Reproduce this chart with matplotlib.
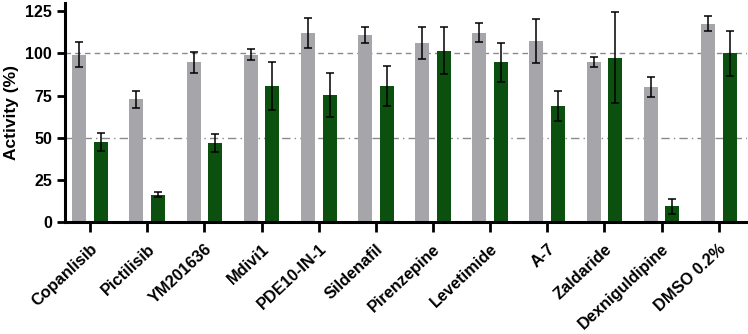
import numpy as np
import matplotlib.pyplot as plt
from matplotlib.transforms import ScaledTranslation

plt.rcParams['font.family'] = ['Liberation Sans', 'DejaVu Sans']

compounds = ['Copanlisib', 'Pictilisib', 'YM201636', 'Mdivi1', 'PDE10-IN-1', 'Sildenafil',
             'Pirenzepine', 'Levetimide', 'A-7', 'Zaldaride', 'Dexniguldipine', 'DMSO 0.2%']
grey_vals = [99.4, 72.9, 94.7, 99.4, 112.3, 111.1, 106.3, 112.3, 107.5, 94.9, 80.0, 117.8]
grey_err = [7.5, 5.0, 6.0, 3.5, 8.9, 4.7, 9.7, 5.6, 13.2, 3.2, 6.0, 4.2]
green_vals = [47.5, 16.2, 46.9, 80.6, 75.2, 80.6, 101.6, 94.9, 68.7, 97.4, 9.3, 100.0]
green_err = [5.5, 1.5, 5.2, 14.4, 13.0, 12.0, 13.9, 11.6, 8.8, 27.0, 4.4, 13.2]

x = np.arange(len(compounds))
w = 0.245
off = 0.19

fig = plt.figure(figsize=(7.48, 3.34), dpi=100)
ax = fig.add_axes([0.087, 0.336, 0.912, 0.655])

ax.axhline(100, color='#8a8a8a', lw=1, ls=(0, (4, 3)), zorder=0)
ax.axhline(50, color='#8a8a8a', lw=1, ls=(0, (6, 3, 1, 3)), zorder=0)

ekw = dict(ecolor='black', elinewidth=1.1, capsize=2.7, capthick=1.1)
ax.bar(x - off, grey_vals, w, color='#a6a5aa', yerr=grey_err, error_kw=ekw, zorder=2)
ax.bar(x + off, green_vals, w, color='#0b500f', yerr=green_err, error_kw=ekw, zorder=2)

ax.set_xlim(-0.44, 11.5)
ax.set_ylim(0, 130)
ax.set_yticks([0, 25, 50, 75, 100, 125])
ax.set_xticks(x)
ax.set_xticklabels(compounds, rotation=43, ha='right', rotation_mode='anchor',
                   fontsize=11.8, fontweight='bold')
shift = ScaledTranslation(5 / 100, 0, fig.dpi_scale_trans)
for lab in ax.get_xticklabels():
    lab.set_transform(lab.get_transform() + shift)
for lab in ax.get_yticklabels():
    lab.set_fontweight('bold')
    lab.set_fontsize(11.5)
ax.set_ylabel('Activity (%)', fontsize=12.5, fontweight='bold', labelpad=4)

for s in ['top', 'right']:
    ax.spines[s].set_visible(False)
for s in ['left', 'bottom']:
    ax.spines[s].set_linewidth(2.2)
ax.tick_params(axis='both', width=2, length=6)
ax.tick_params(axis='x', length=7, pad=7)

fig.savefig('out.png', dpi=100)
